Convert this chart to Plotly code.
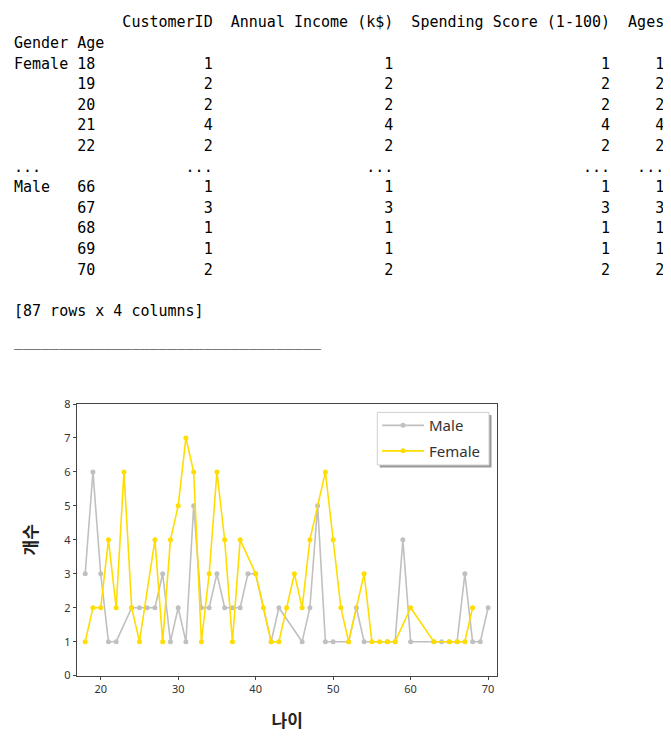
import plotly.graph_objects as go

# screen mapping observed for this browser: x_screen = 8 + x_fig,
# y_screen = 15.2 + 0.98 * y_fig
OFF_X = 8
OFF_Y, SY = 15.2, 0.98
W, H = 671 - OFF_X, 741


def X(px):
    return (px - OFF_X) / W


def Y(py):
    return 1 - ((py - OFF_Y) / SY) / H


# ---- data (counts of customers per age, by gender) ----
male_age = [18, 19, 20, 21, 22, 24, 25, 26, 27, 28, 29, 30, 31, 32, 33, 34, 35, 36, 37, 38,
            39, 40, 42, 43, 46, 47, 48, 49, 50, 52, 53, 54, 57, 58, 59, 60, 63, 64, 65, 66,
            67, 68, 69, 70]
male_cnt = [3, 6, 3, 1, 1, 2, 2, 2, 2, 3, 1, 2, 1, 5, 2, 2, 3, 2, 2, 2,
            3, 3, 1, 2, 1, 2, 5, 1, 1, 1, 2, 1, 1, 1, 4, 1, 1, 1, 1, 1,
            3, 1, 1, 2]
female_age = [18, 19, 20, 21, 22, 23, 24, 25, 27, 28, 29, 30, 31, 32, 33, 34, 35, 36, 37, 38,
              40, 41, 42, 43, 44, 45, 46, 47, 49, 50, 51, 52, 54, 55, 56, 57, 58, 60, 63, 65,
              66, 67, 68]
female_cnt = [1, 2, 2, 4, 2, 6, 2, 1, 4, 1, 4, 5, 7, 6, 1, 3, 6, 4, 1, 4,
              3, 2, 1, 1, 2, 3, 2, 4, 6, 4, 2, 1, 3, 1, 1, 1, 1, 2, 1, 1,
              1, 1, 2]

columns = ["CustomerID", "Annual Income (k$)", "Spending Score (1-100)", "Ages"]
x_title = "나이"
y_title = "개수"

# ---- printed dataframe text ----
def fmt_row(lvl0, age, v):
    idx = f"{lvl0:<6} {str(age):<3}"
    return idx + "  " + "  ".join(f"{v:>{len(c)}}" for c in columns)

lines = []
lines.append(" " * 10 + "  " + "  ".join(columns))
lines.append("Gender Age")
for i in range(5):
    lines.append(fmt_row("Female" if i == 0 else "", female_age[i], female_cnt[i]))
lines.append("...".ljust(10) + "  " + "  ".join("...".rjust(len(c)) for c in columns))
for i in range(5):
    k = len(male_age) - 5 + i
    lines.append(fmt_row("Male" if i == 0 else "", male_age[k], male_cnt[k]))
lines.append("")
lines.append(f"[{len(male_age) + len(female_age)} rows x {len(columns)} columns]")

mono = dict(family="DejaVu Sans Mono", size=15, color="#000000")
annotations = []
top_row, last_row = 21.5, 310.0
step = (last_row - top_row) / (len(lines) - 1)
for i, ln in enumerate(lines):
    if not ln:
        continue
    annotations.append(dict(
        text=ln.replace(" ", "\u00a0"), xref="paper", yref="paper",
        x=X(12), y=Y(top_row + step * i), xanchor="left", yanchor="middle",
        showarrow=False, font=mono))
annotations.append(dict(
    text="_" * 34, xref="paper", yref="paper",
    x=X(12), y=Y(340.5), xanchor="left", yanchor="middle",
    showarrow=False, font=mono))

# ---- chart ----
fig = go.Figure()
fig.add_trace(go.Scatter(x=male_age, y=male_cnt, mode="lines+markers", name="Male",
                         line=dict(color="#c0c0c0", width=1.6),
                         marker=dict(color="#c0c0c0", size=5), legendgroup="m"))
fig.add_trace(go.Scatter(x=female_age, y=female_cnt, mode="lines+markers", name="Female",
                         line=dict(color="#ffdd00", width=1.6),
                         marker=dict(color="#ffdd00", size=5), legendgroup="f"))

# legend box (shadow + frame)
lx0, lx1, ly0, ly1 = 377.3, 489, 411.7, 464.3
shapes = [
    dict(type="rect", xref="paper", yref="paper", layer="above",
         x0=X(lx0 + 2.5), x1=X(lx1 + 2.5), y0=Y(ly1 + 2.5), y1=Y(ly0 + 2.5),
         fillcolor="#9a9a9a", line=dict(width=0)),
    dict(type="rect", xref="paper", yref="paper", layer="above",
         x0=X(lx0), x1=X(lx1), y0=Y(ly1), y1=Y(ly0),
         fillcolor="#ffffff", line=dict(color="#d0d0d0", width=1)),
]

tickfont = dict(family="Noto Sans", size=11, color="#333333")
titlefont = dict(family="Noto Sans CJK KR", size=17, color="#222222", weight="bold")
fig.update_layout(
    width=W, height=H, margin=dict(l=0, r=0, t=0, b=0),
    paper_bgcolor="white", plot_bgcolor="white",
    showlegend=True,
    legend=dict(x=X(377), y=Y(408.4), xanchor="left", yanchor="top",
                bgcolor="rgba(0,0,0,0)", borderwidth=0, itemwidth=42,
                font=dict(family="Noto Sans", size=15, color="#333333"),
                traceorder="grouped", tracegroupgap=3),
    xaxis=dict(domain=[X(77.3), X(497)], range=[16.98, 71.15], tickmode="array",
               tickvals=[20, 30, 40, 50, 60, 70], showgrid=False, zeroline=False,
               showline=True, mirror=True, linecolor="#444444", linewidth=1,
               ticks="outside", ticklen=3.5, tickcolor="#444444", tickfont=tickfont,
               title=dict(text=x_title, standoff=19, font=titlefont)),
    yaxis=dict(domain=[Y(675), Y(403.3)], range=[0, 8], tickmode="array",
               tickvals=list(range(0, 9)), showgrid=False, zeroline=False,
               showline=True, mirror=True, linecolor="#444444", linewidth=1,
               ticks="outside", ticklen=3.5, tickcolor="#444444", tickfont=tickfont,
               title=dict(text=y_title, standoff=22, font=titlefont)),
    annotations=annotations,
    shapes=shapes,
)

fig.write_html("out.html")
